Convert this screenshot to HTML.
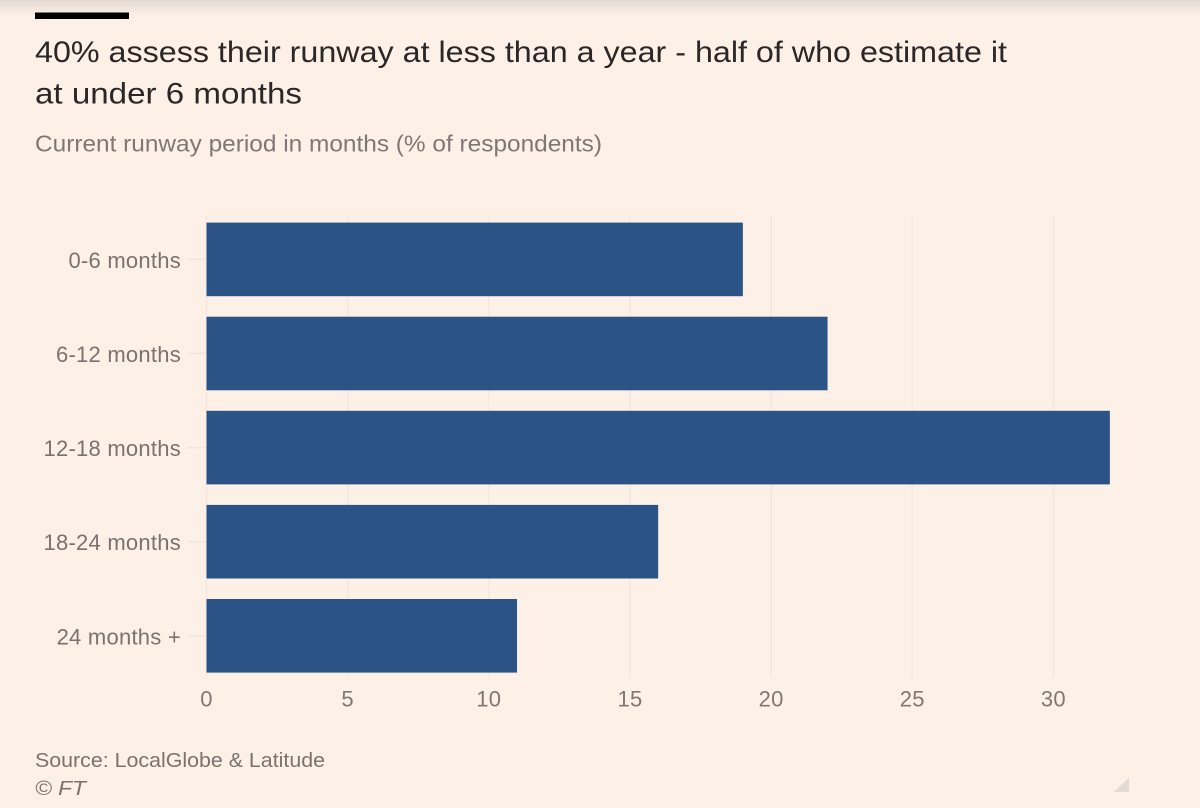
<!DOCTYPE html>
<html lang="en">
<head>
<meta charset="utf-8">
<title>Current runway period</title>
<style>
html,body{margin:0;padding:0;background:#fdf0e7;}
body{width:1200px;height:808px;overflow:hidden;}
svg{display:block;}
text{font-family:"Liberation Sans",sans-serif;filter:blur(0.3px);}
</style>
</head>
<body>
<svg id="chart" width="1200" height="808" viewBox="0 0 1200 808" xmlns="http://www.w3.org/2000/svg">
  <defs>
    <linearGradient id="top-shade" x1="0" y1="0" x2="0" y2="1">
      <stop offset="0" stop-color="#e4dbd4"/>
      <stop offset="1" stop-color="#fdf0e7"/>
    </linearGradient>
  </defs>
  <rect width="1200" height="808" fill="#fdf0e7"/>
  <rect width="1200" height="16" fill="url(#top-shade)"/>
  <rect x="35" y="12.500" width="94" height="6.500" fill="#000"/>
  <text x="35" y="62" font-size="30" fill="#2b2726" textLength="972" lengthAdjust="spacingAndGlyphs">40% assess their runway at less than a year - half of who estimate it</text>
  <text x="35" y="103.500" font-size="30" fill="#2b2726" textLength="267" lengthAdjust="spacingAndGlyphs">at under 6 months</text>
  <text x="35" y="151.500" font-size="23.500" fill="#7f7773" textLength="567" lengthAdjust="spacingAndGlyphs">Current runway period in months (% of respondents)</text>
  <g id="grid"></g>
  <g id="y-ticks"></g>
  <g id="bars"></g>
  <g id="x-ticks"></g>
  <text x="35" y="767" font-size="20.500" fill="#7a726e" textLength="290" lengthAdjust="spacingAndGlyphs">Source: LocalGlobe &amp; Latitude</text>
  <text x="35" y="795" font-size="20.500" font-style="italic" fill="#7a726e" textLength="51" lengthAdjust="spacingAndGlyphs">© FT</text>
  <path d="M1129 777.500 L1114 792 L1129 792 Z" fill="#e2dcd8"/>
</svg>
<script>
const categories = ["0-6 months", "6-12 months", "12-18 months", "18-24 months", "24 months +"];
const seriesValues = [19, 22, 32, 16, 11];
const xTickValues = [0, 5, 10, 15, 20, 25, 30];

const SVG_NS = "http://www.w3.org/2000/svg";
const plot = { x0: 206.5, unit: 28.23, top: 216, rowStep: 94.1, barTop: 222.6, barHeight: 73.6, bottom: 678 };
const xScale = function (v) { return plot.x0 + v * plot.unit; };
const rowTop = function (i) { return plot.barTop + i * plot.rowStep; };

function make(parent, tag, attrs) {
  const el = document.createElementNS(SVG_NS, tag);
  Object.keys(attrs).forEach(function (k) { el.setAttribute(k, attrs[k]); });
  parent.appendChild(el);
  return el;
}

const gridLayer = document.getElementById("grid");
const xLayer = document.getElementById("x-ticks");
xTickValues.forEach(function (v) {
  const line = make(gridLayer, "line", { x1: xScale(v), x2: xScale(v), y1: plot.top, y2: plot.bottom, stroke: "#f3e8e0", "stroke-width": 1.5 });
  
  
  const label = make(xLayer, "text", { x: xScale(v), y: 706.5, "text-anchor": "middle", "font-size": 22, "letter-spacing": 0.25, fill: "#7f7773" });
  
  
  label.textContent = v;
});

const yLayer = document.getElementById("y-ticks");
const barLayer = document.getElementById("bars");
categories.forEach(function (c, i) {
  const cy = rowTop(i) + plot.barHeight / 2;
  const tick = make(yLayer, "line", { x1: 188, x2: 206, y1: cy, y2: cy, stroke: "#f0e6de", "stroke-width": 1.5 });
  
  
  const label = make(yLayer, "text", { x: 181, y: cy + 8.5, "text-anchor": "end", "font-size": 22, "letter-spacing": 0.25, fill: "#7a726e" });
  
  
  label.textContent = c;
  const bar = make(barLayer, "rect", { x: xScale(0), y: rowTop(i), width: xScale(seriesValues[i]) - xScale(0), height: plot.barHeight, fill: "#2c5386" });
  
  
});
</script>
</body>
</html>
